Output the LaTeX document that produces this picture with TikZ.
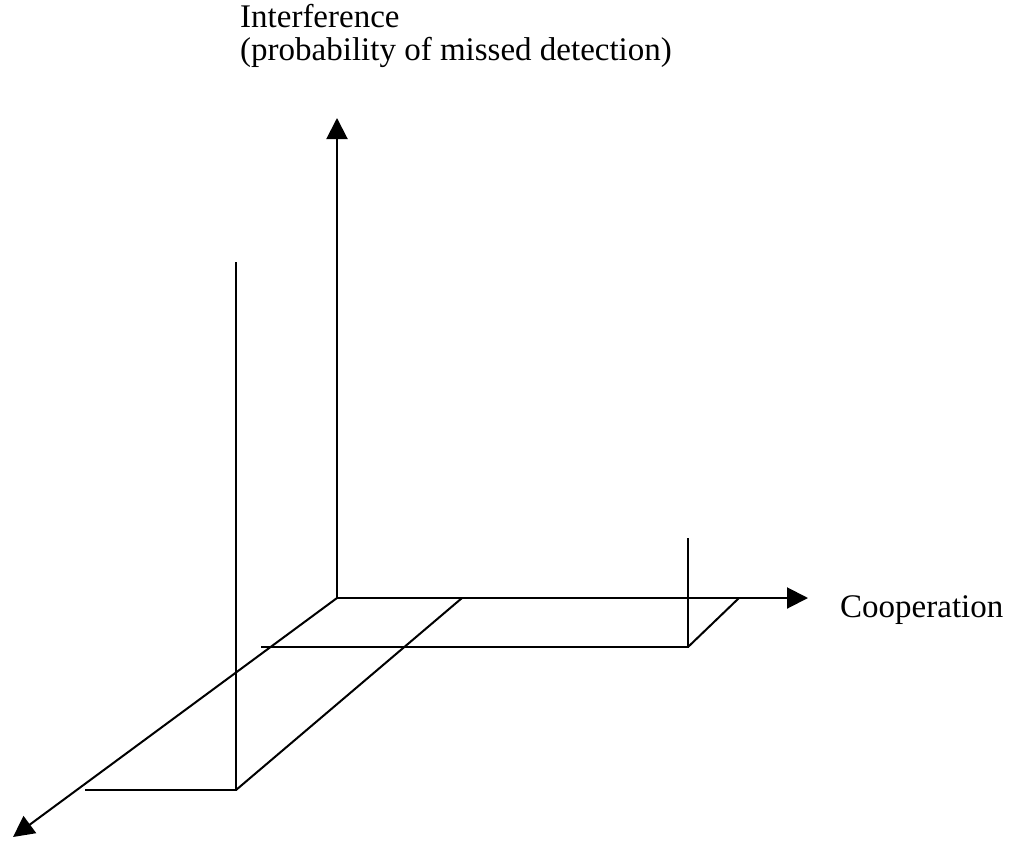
\documentclass[tikz,border=0pt]{standalone}
\usepackage{fontspec}
\setmainfont{Liberation Serif}
\usetikzlibrary{arrows.meta}
\begin{document}
\begin{tikzpicture}[x=1pt,y=-1pt,
  ln/.style={line width=2pt},
  axis/.style={line width=2pt,-{Triangle[length=21pt,width=21pt]}},
  lbl/.style={inner sep=0pt,anchor=base west,font=\fontsize{33}{40}\selectfont}]
\useasboundingbox (0,0) rectangle (1011,840);
% axes
\coordinate (O) at (337,598);
\coordinate (ytip) at (337,118);
\coordinate (xtip) at (808,598);
\coordinate (ztip) at (13,837);
\draw[axis] (O) -- (ytip);
\draw[axis] (O) -- (xtip);
\draw[axis] (O) -- (ztip);
% plane outline
\coordinate (a1) at (236,262);
\coordinate (a2) at (236,790);
\coordinate (a3) at (85,790);
\coordinate (a4) at (462,598);
\coordinate (b1) at (261,647);
\coordinate (b2) at (688,647);
\coordinate (b3) at (688,538);
\coordinate (b4) at (739,598);
\draw[ln] (a1) -- (a2) -- (a3);
\draw[ln] (a2) -- (a4);
\draw[ln] (b1) -- (b2) -- (b3);
\draw[ln] (b2) -- (b4);
% labels
\node[lbl] (t1) at (240,28) {Interference};
\node[lbl] (t2) at (240,61) {(probability of missed detection)};
\node[lbl] (t3) at (840,617) {Cooperation};
\end{tikzpicture}
\end{document}
